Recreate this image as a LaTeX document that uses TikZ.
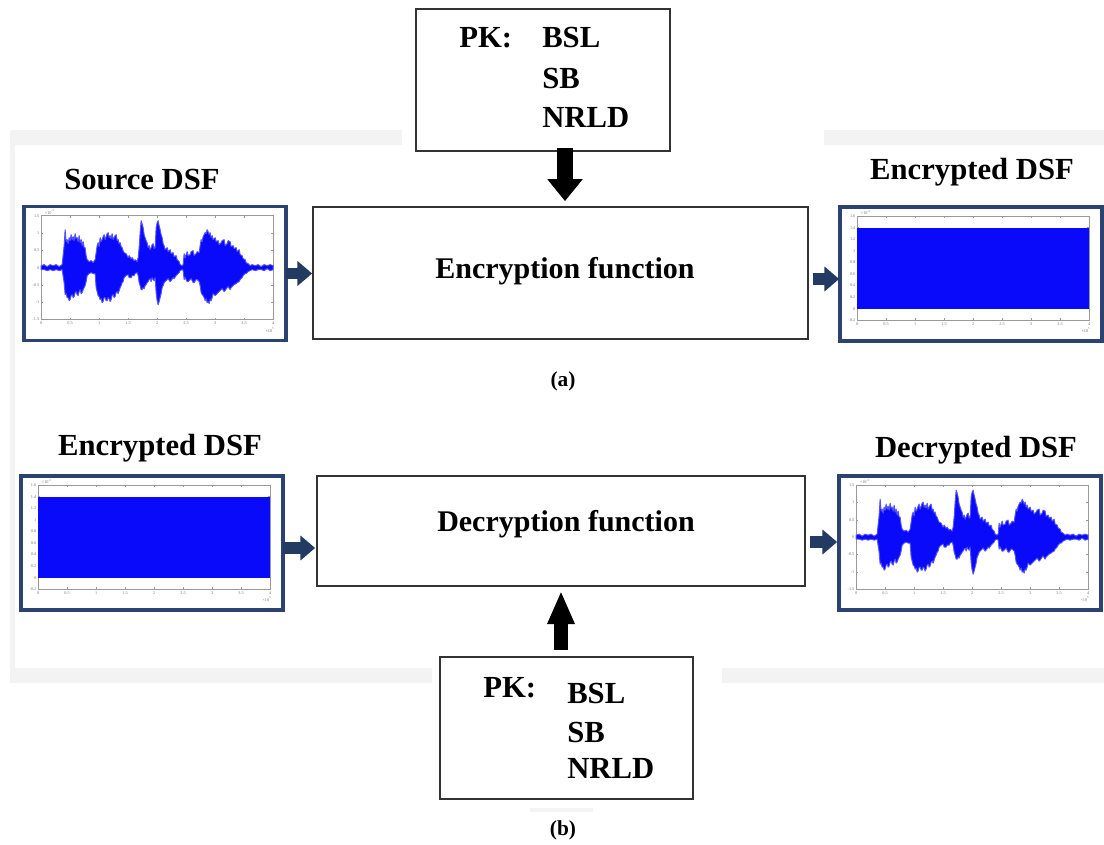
\documentclass[tikz,border=0pt]{standalone}
\usepackage{fontspec}
\setmainfont{Liberation Serif}
\usetikzlibrary{arrows.meta,calc}
\definecolor{wblue}{RGB}{10,10,250}
\definecolor{panelblue}{RGB}{44,66,112}
\definecolor{navyarr}{RGB}{35,58,98}
\definecolor{bgband}{RGB}{243,243,243}
\newcommand\axesbox[2]{%
  \draw[axisline] (19,11) rectangle (251,115);
  \foreach \lab [count=\k from 0] in {0,0.5,1,1.5,2,2.5,3,3.5,4}{%
    \draw[axisline] (19+29*\k,115) -- ++(0,-2);
    \draw[axisline] (19+29*\k,11) -- ++(0,2);
    \node[ticklbl,anchor=north] at (19+29*\k,116.5) {\lab};}
  \foreach \lab [count=\k from 0] in {#1}{%
    \draw[axisline] (19,11+#2*\k) -- ++(2,0);
    \draw[axisline] (251,11+#2*\k) -- ++(-2,0);
    \node[ticklbl,anchor=east] at (18,11+#2*\k) {\lab};}
  \node[ticklbl,anchor=south west] at (22,10.5) {×10\textsuperscript{-3}};
  \node[ticklbl,anchor=north east] at (253,122) {×10\textsuperscript{5}};
}
\newcommand\speechwave{%
  \begin{scope}[shift={(0,63)}]
  \draw[wblue,line width=0.8pt] (19,0) -- (251,0);
  \filldraw[fill=wblue,draw=wblue!70,line width=0.7pt,line join=round] plot coordinates {
(19,-2)(22,-3)(25,-1)(28,-3)(31,-2)(34,-3)(37,-1)(40,-3)
(42,-22)(43,-38)(44,-26)(45,-28)(46,-24)(47,-30)(48,-27)(49,-33)(50,-28)(51,-31)(52,-27)(53,-34)(54,-29)(55,-30)(56,-26)(57,-32)(58,-25)(59,-28)(60,-22)(61,-26)(62,-20)(63,-20)(64,-12)(65,-8)
(67,-6)(69,-7)(71,-5)(73,-8)
(74,-15)(75,-22)(76,-25)(77,-21)(78,-30)(79,-26)(80,-28)(81,-31)(82,-33)(83,-28)(84,-31)(85,-34)(86,-35)(87,-30)(88,-32)(89,-29)(90,-34)(91,-28)(92,-30)(93,-32)(94,-33)(95,-27)(96,-28)(97,-24)(98,-25)(99,-21)(100,-20)(101,-17)(102,-15)
(104,-14)(106,-10)(107,-12)(109,-9)(110,-10)(112,-7)(113,-8)(115,-6)
(116,-10)(117,-20)(118,-35)(119,-47)(120,-44)(121,-40)(122,-33)(123,-30)(124,-27)(125,-25)
(126,-20)(127,-22)(128,-18)(129,-20)(130,-23)(131,-24)(132,-19)(133,-20)
(134,-40)(135,-45)(136,-47)(137,-42)(138,-38)(139,-33)(140,-30)
(141,-24)(142,-22)(143,-18)(145,-20)(146,-16)(148,-18)(149,-14)(151,-15)(152,-11)(154,-12)(155,-8)(157,-6)
(158,-3)(160,-2)(161,-3)
(162,-14)(163,-10)(165,-16)(166,-12)(168,-13)(169,-16)(171,-17)(172,-12)(174,-14)(175,-16)(177,-15)
(178,-22)(179,-28)(180,-26)(181,-31)(182,-33)(183,-35)(184,-34)(185,-38)(186,-36)(187,-33)(188,-35)(189,-30)(190,-32)
(191,-28)(193,-30)(194,-26)(196,-27)(197,-23)(199,-25)(200,-27)(202,-28)(203,-22)(205,-24)(206,-27)(208,-26)(209,-21)(211,-22)(212,-19)(214,-20)(215,-16)(217,-18)
(218,-13)(220,-12)(221,-9)(223,-8)(224,-5)(226,-4)
(228,-2)(230,-3)(233,-2)(236,-3)(239,-1)(242,-3)(245,-2)(248,-3)(251,-2)
(251,2)(248,3)(245,1)(242,3)(239,2)(236,2)(233,3)(230,2)(228,3)
(226,4)(224,6)(223,6)(221,8)(220,10)(218,12)
(217,14)(215,15)(214,16)(212,17)(211,18)(209,20)(208,22)(206,19)(205,20)(203,23)(202,24)(200,21)(199,22)(197,24)(196,25)(194,27)(193,28)(191,26)
(190,30)(189,33)(188,32)(187,36)(186,34)(185,35)(184,31)(183,33)(182,30)(181,28)(180,27)(179,25)(178,18)
(177,14)(175,12)(174,12)(172,15)(171,15)(169,11)(168,12)(166,14)(165,14)(163,10)(162,12)
(161,3)(160,2)(158,3)
(157,5)(155,7)(154,8)(152,11)(151,10)(149,13)(148,14)(146,11)(145,12)(143,14)(142,15)(141,18)
(140,20)(139,26)(138,30)(137,34)(136,37)(135,33)(134,25)
(133,10)(132,13)(131,12)(130,10)(129,14)(128,11)(127,12)(126,14)
(125,15)(124,17)(123,18)(122,21)(121,20)(120,22)(119,22)(118,18)(117,15)(116,8)
(115,5)(113,6)(112,8)(110,8)(109,10)(107,10)(106,7)(104,8)
(102,10)(101,14)(100,15)(99,18)(98,20)(97,23)(96,26)(95,24)(94,25)(93,29)(92,30)(91,27)(90,28)(89,32)(88,34)(87,31)(86,30)(85,33)(84,33)(83,30)(82,30)(81,34)(80,35)(79,31)(78,32)(77,29)(76,28)(75,24)(74,20)
(73,6)(71,6)(69,5)(67,6)
(65,8)(64,14)(63,18)(62,20)(61,22)(60,25)(59,26)(58,22)(57,24)(56,28)(55,27)(54,24)(53,25)(52,29)(51,30)(50,27)(49,28)(48,32)(47,33)(46,30)(45,30)(44,26)(43,27)(42,15)
(40,2)(37,3)(34,2)(31,3)(28,2)(25,3)(22,2)(19,2)
  } -- cycle;
  \end{scope}
}
\newcommand\noisewave{%
  \fill[wblue] (19,23) rectangle (251,104);
}
\begin{document}
\begin{tikzpicture}[x=0.75pt,y=-0.75pt,
  fbox/.style={draw=black!80,line width=1.3pt,fill=white,inner sep=0pt},
  panel/.style={draw=panelblue,line width=2.8pt,fill=white,inner sep=0pt,
    minimum width=196.5pt,minimum height=100.5pt},
  bigtxt/.style={font=\fontsize{23}{28}\selectfont\bfseries,inner sep=0pt},
  boxtxt/.style={font=\fontsize{22.5}{27}\selectfont\bfseries,inner sep=0pt},
  captxt/.style={font=\fontsize{16}{19}\selectfont\bfseries,inner sep=0pt},
  ticklbl/.style={font=\fontsize{3.2}{3.5}\selectfont,text=black!55,inner sep=0.4pt},
  axisline/.style={draw=black!40,line width=0.3pt},
  navyarrow/.style={draw=navyarr,line width=8.5pt,-{Triangle[length=11pt,width=18pt]}},
  blackarrowa/.style={draw=black,line width=12pt,-{Triangle[length=16.5pt,width=25.5pt]}},
  blackarrowb/.style={draw=black,line width=10.5pt,-{Triangle[length=25pt,width=19pt]}}
]
\useasboundingbox (0,0) rectangle (1104,845);
\fill[white] (0,0) rectangle (1104,845);
% faint background frame
\fill[bgband] (10,130) rectangle (402,145);
\fill[bgband] (824,130) rectangle (1104,145);
\fill[bgband] (10,130) rectangle (15,683);
\fill[bgband] (10,668) rectangle (432,683);
\fill[bgband] (722,668) rectangle (1104,683);
\fill[bgband] (530,808) rectangle (593,812);

% ---- (a) encryption ----
\node[fbox,minimum width=190.5pt,minimum height=106.5pt] (pk1) at (543,80) {};
\node[bigtxt,anchor=base west] (pk1a) at (459,48) {PK:};
\node[bigtxt,anchor=base west] (pk1b) at (542,48) {BSL};
\node[bigtxt,anchor=base west] (pk1c) at (542,89) {SB};
\node[bigtxt,anchor=base west] (pk1d) at (542,128) {NRLD};

\node[fbox,minimum width=371.25pt,minimum height=99pt] (enc) at (560.5,273) {};
\node[boxtxt] (enct) at (565,271) {Encryption function};

\node[bigtxt,anchor=base] (srcl) at (142,190) {Source DSF};
\node[panel] (src) at (155,273.5) {};
\begin{scope}[shift={(src.north west)}]\axesbox{1.5,1,0.5,0,-0.5,-1,-1.5}{17.33}\speechwave\end{scope}

\node[bigtxt,anchor=base] (encl) at (972,180) {Encrypted DSF};
\node[panel] (enco) at (971,274) {};
\begin{scope}[shift={(enco.north west)}]\axesbox{1.6,1.4,1.2,1,0.8,0.6,0.4,0.2,0,-0.2}{11.56}\noisewave\end{scope}

% helper coordinates for arrow ends
\coordinate (ka1) at ($(enc.north)+(4.5,-58)$);
\coordinate (ka2) at ($(enc.north)+(4.5,-5)$);
\coordinate (a1s) at ($(src.east)+(-2,0)$);
\coordinate (a1e) at (enc.west |- a1s);
\coordinate (a2s) at ($(enc.east)+(4,6)$);
\coordinate (a2e) at ($(enco.west |- a2s)+(1,0)$);

\draw[blackarrowa] (ka1) -- (ka2);
\draw[navyarrow] (a1s) -- (a1e);
\draw[navyarrow] (a2s) -- (a2e);

\node[captxt] (capa) at (563,381) {(a)};

% ---- (b) decryption ----
\node[bigtxt,anchor=base] (encl2) at (160,455) {Encrypted DSF};
\node[panel] (enci) at (152,543) {};
\begin{scope}[shift={(enci.north west)}]\axesbox{1.6,1.4,1.2,1,0.8,0.6,0.4,0.2,0,-0.2}{11.56}\noisewave\end{scope}

\node[fbox,minimum width=366pt,minimum height=82.5pt] (dec) at (561,531) {};
\node[boxtxt] (dect) at (566,524) {Decryption function};

\node[bigtxt,anchor=base] (decl) at (976,457) {Decrypted DSF};
\node[panel] (deco) at (970,543) {};
\begin{scope}[shift={(deco.north west)}]\axesbox{1.5,1,0.5,0,-0.5,-1,-1.5}{17.33}\speechwave\end{scope}

\coordinate (b1s) at ($(enci.east)+(-2,5)$);
\coordinate (b1e) at ($(dec.west |- b1s)+(-1,0)$);
\coordinate (b2s) at ($(dec.east)+(4,11)$);
\coordinate (b2e) at (deco.west |- b2s);
\draw[navyarrow] (b1s) -- (b1e);
\draw[navyarrow] (b2s) -- (b2e);

\node[fbox,minimum width=189.75pt,minimum height=106.5pt] (pk2) at (566.5,728) {};
\node[bigtxt,anchor=base west] (pk2a) at (483,697) {PK:};
\node[bigtxt,anchor=base west] (pk2b) at (567,703) {BSL};
\node[bigtxt,anchor=base west] (pk2c) at (567,742) {SB};
\node[bigtxt,anchor=base west] (pk2d) at (567,778) {NRLD};

\coordinate (kb1) at ($(pk2.north -| dec.south)+(0,-6)$);
\coordinate (kb2) at ($(dec.south)+(0,4)$);
\draw[blackarrowb] (kb1) -- (kb2);

\node[captxt] (capb) at (563,830) {(b)};
\end{tikzpicture}
\end{document}
